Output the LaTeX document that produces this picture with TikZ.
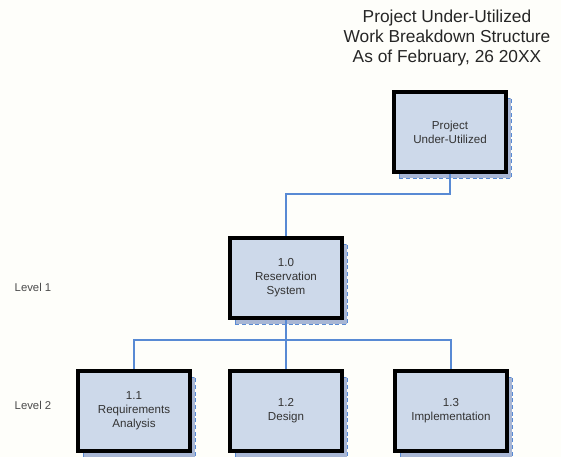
\documentclass[tikz,border=0pt]{standalone}
\usepackage{fontspec}
\setmainfont{Liberation Sans}
\usetikzlibrary{shadows}
\definecolor{linkblue}{RGB}{88,138,212}
\definecolor{boxfill}{RGB}{205,217,234}
\definecolor{shadefill}{RGB}{168,182,212}
\definecolor{paper}{RGB}{254,254,250}
\begin{document}
\begin{tikzpicture}[x=0.75pt,y=-0.75pt,
    wbs/.style={draw=black,line width=2.6pt,fill=boxfill,minimum width=84pt,minimum height=60pt,
        align=center,font=\fontsize{8.7}{10.5}\selectfont,text=black!80,
        copy shadow={shadow xshift=4pt,shadow yshift=-4.5pt,fill=shadefill,draw=linkblue,line width=0.6pt,densely dashed}},
    link/.style={draw=linkblue,line width=1.5pt},
    level/.style={anchor=west,font=\fontsize{8.5}{10}\selectfont,text=black!70}]
    \useasboundingbox[fill=paper](0,0)rectangle(561,457);
    \node[align=center,font=\fontsize{13}{15}\selectfont,text=black!85](title)at(447,38){Project Under-Utilized\\Work Breakdown Structure\\As of February, 26 20XX};
    \node[level](lv1)at(10,287){Level 1};
    \node[level](lv2)at(10,405){Level 2};
    % boxes
    \node[wbs](top)at(450,132){Project\\Under-Utilized};
    \node[wbs](sys)at(286,278){1.0\\Reservation\\System};
    \node[wbs](req)at(134,411){1.1\\Requirements\\Analysis};
    \node[wbs](des)at(286,411){1.2\\Design};
    \node[wbs](imp)at(451,411){1.3\\Implementation};
    % links
    \draw[link](top.south)--++(0,20)-|(sys.north);
    \draw[link](sys.south)--++(0,20)coordinate(bus);
    \foreach \b in {req,des,imp}
        \draw[link](bus)-|(\b.north);
\end{tikzpicture}
\end{document}
